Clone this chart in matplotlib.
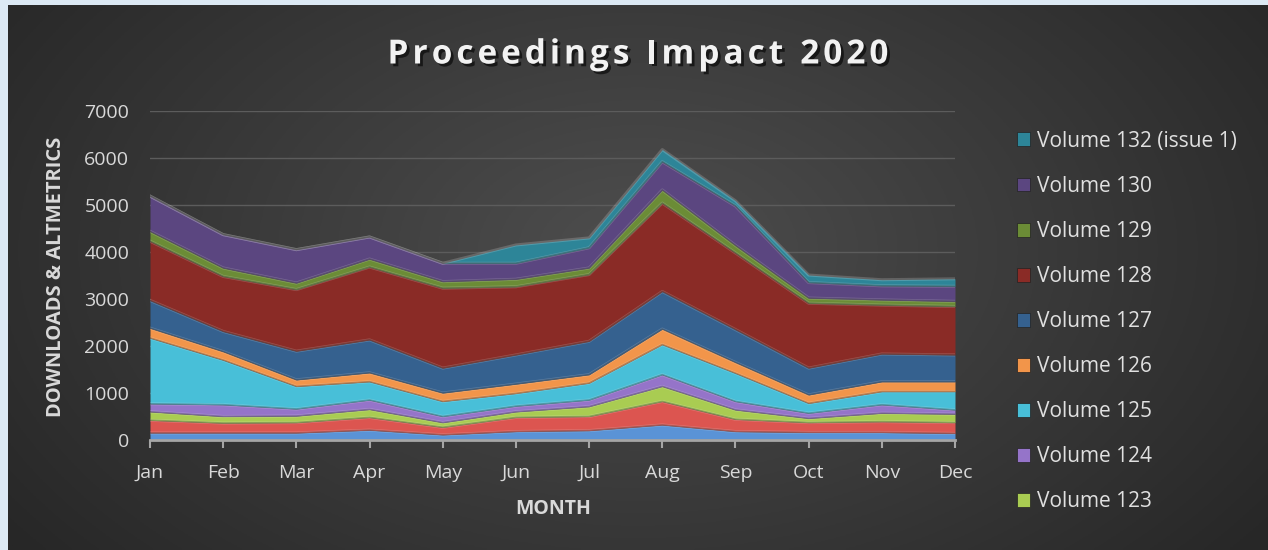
import numpy as np
import matplotlib
matplotlib.use("Agg")
import matplotlib.pyplot as plt
import matplotlib.patheffects as pe
from matplotlib.patches import Patch

plt.rcParams['font.family'] = ['Open Sans', 'DejaVu Sans']

months = ['Jan', 'Feb', 'Mar', 'Apr', 'May', 'Jun', 'Jul', 'Aug', 'Sep', 'Oct', 'Nov', 'Dec']

# stacked from bottom to top
vol121 = [150, 150, 150, 210, 110, 180, 200, 320, 180, 160, 160, 140]
vol122 = [270, 210, 220, 270, 160, 300, 300, 500, 260, 210, 230, 230]
vol123 = [180, 140, 140, 170, 100, 120, 210, 320, 200, 90, 180, 180]
vol124 = [170, 250, 150, 200, 130, 120, 140, 250, 180, 110, 180, 90]
vol125 = [1400, 950, 480, 390, 320, 270, 360, 640, 600, 210, 280, 390]
vol126 = [210, 180, 140, 190, 180, 200, 180, 330, 230, 180, 210, 210]
vol127 = [590, 430, 610, 700, 530, 620, 710, 800, 700, 570, 590, 570]
vol128 = [1260, 1170, 1310, 1550, 1700, 1450, 1420, 1880, 1630, 1380, 1040, 1030]
vol129 = [210, 180, 140, 170, 140, 160, 140, 280, 160, 110, 110, 110]
vol130 = [750, 710, 710, 470, 390, 340, 430, 600, 840, 330, 300, 320]
vol132 = [0, 0, 0, 0, 0, 390, 210, 260, 110, 160, 130, 160]

series = [vol121, vol122, vol123, vol124, vol125, vol126, vol127, vol128, vol129, vol130, vol132]
labels = ['Volume 121', 'Volume 122', 'Volume 123', 'Volume 124', 'Volume 125', 'Volume 126',
          'Volume 127', 'Volume 128', 'Volume 129', 'Volume 130', 'Volume 132 (issue 1)']
colors = ['#5a93d6', '#dc5550', '#a9cc52', '#9574c9', '#48bfd8', '#f2954a',
          '#35618f', '#8a2b26', '#6b8c36', '#5b4680', '#2d8598']

W, H = 1268, 550
fig = plt.figure(figsize=(W / 100, H / 100), dpi=100)
fig.patch.set_facecolor('#dce9f4')

# dark radial background panel
bg = fig.add_axes([8 / W, 0, 1 - 8 / W, 545 / H], zorder=-10)
gx, gy = np.meshgrid(np.linspace(0, 1, 400), np.linspace(0, 1, 200))
r = np.sqrt(((gx - 0.5) / 0.62) ** 2 + ((gy - 0.55) / 0.9) ** 2)
r = np.clip(r, 0, 1)
inner = np.array([0x4e, 0x4e, 0x4e]) / 255
outer = np.array([0x27, 0x27, 0x27]) / 255
img = inner[None, None, :] * (1 - r[..., None]) + outer[None, None, :] * r[..., None]
bg.imshow(img, aspect='auto', extent=[0, 1, 0, 1], origin='lower')
bg.axis('off')

ax = fig.add_axes([150 / W, 110 / H, 805 / W, 329 / H])
ax.set_facecolor('none')

x = np.arange(len(months))
cum = np.zeros(len(months))
for vals, c in zip(series, colors):
    vals = np.array(vals, dtype=float)
    top = cum + vals
    ax.fill_between(x, cum, top, color=c, linewidth=0, zorder=2)
    # simple bevel hint along the edges
    ax.plot(x, top, color='white', alpha=0.18, lw=2.2, zorder=3, solid_joinstyle='round')
    ax.plot(x, cum + 0.5, color='black', alpha=0.25, lw=1.2, zorder=3)
    cum = top

ax.set_xlim(0, 11)
ax.set_ylim(0, 7000)
ax.set_yticks(range(0, 7001, 1000))
ax.set_xticks(x)
ax.set_xticklabels(months)
ax.grid(axis='y', color='#5c5c5c', lw=1, zorder=0)
ax.set_axisbelow(True)
for s in ['top', 'right', 'left']:
    ax.spines[s].set_visible(False)
ax.spines['bottom'].set_color('#a6a6a6')
ax.spines['bottom'].set_linewidth(2)
ax.spines['bottom'].set_zorder(5)
ax.tick_params(axis='x', colors='#a6a6a6', length=6, width=1.5, direction='out',
               labelcolor='#d9d9d9', labelsize=14, pad=11)
ax.tick_params(axis='y', length=0, labelcolor='#d9d9d9', labelsize=14, pad=15)

ax.set_xlabel('MONTH', color='#d9d9d9', fontsize=14, fontweight='bold')
ax.xaxis.set_label_coords((553 - 150) / 805, -(499 - 440) / 329)
ax.set_ylabel('DOWNLOADS & ALTMETRICS', color='#d9d9d9', fontsize=14.5, fontweight='bold')
ax.yaxis.set_label_coords(-(150 - 66) / 805, (440 - 277) / 329)

# title with letter spacing
title = 'Proceedings Impact 2020'
renderer = fig.canvas.get_renderer()
tkw = dict(color='#f2f2f2', fontsize=24, fontweight='bold', va='center', ha='left',
           path_effects=[pe.withSimplePatchShadow(offset=(2, -2), shadow_rgbFace='black', alpha=0.6)])
track = 4.0
widths = []
for ch in title:
    if ch == ' ':
        widths.append(9.0)
        continue
    t = fig.text(0, 0, ch, **tkw)
    widths.append(t.get_window_extent(renderer).width)
    t.remove()
total = sum(widths) + track * (len(title) - 1)
xpos = 638 - total / 2
for ch, w in zip(title, widths):
    if ch != ' ':
        fig.text(xpos / W, 1 - 55 / H, ch, **tkw)
    xpos += w + track

handles = [Patch(facecolor=c, edgecolor='#222222', lw=0.5) for c in colors]
order = list(range(len(series) - 1, 1, -1))
leg = fig.legend([handles[i] for i in order], [labels[i] for i in order],
                 loc='upper left', bbox_to_anchor=(998 / W, 1 - 112 / H),
                 frameon=False, fontsize=15, labelcolor='#e0e0e0',
                 handlelength=0.65, handleheight=0.65, handletextpad=0.3, labelspacing=1.155)

fig.savefig('out.png', dpi=100)
